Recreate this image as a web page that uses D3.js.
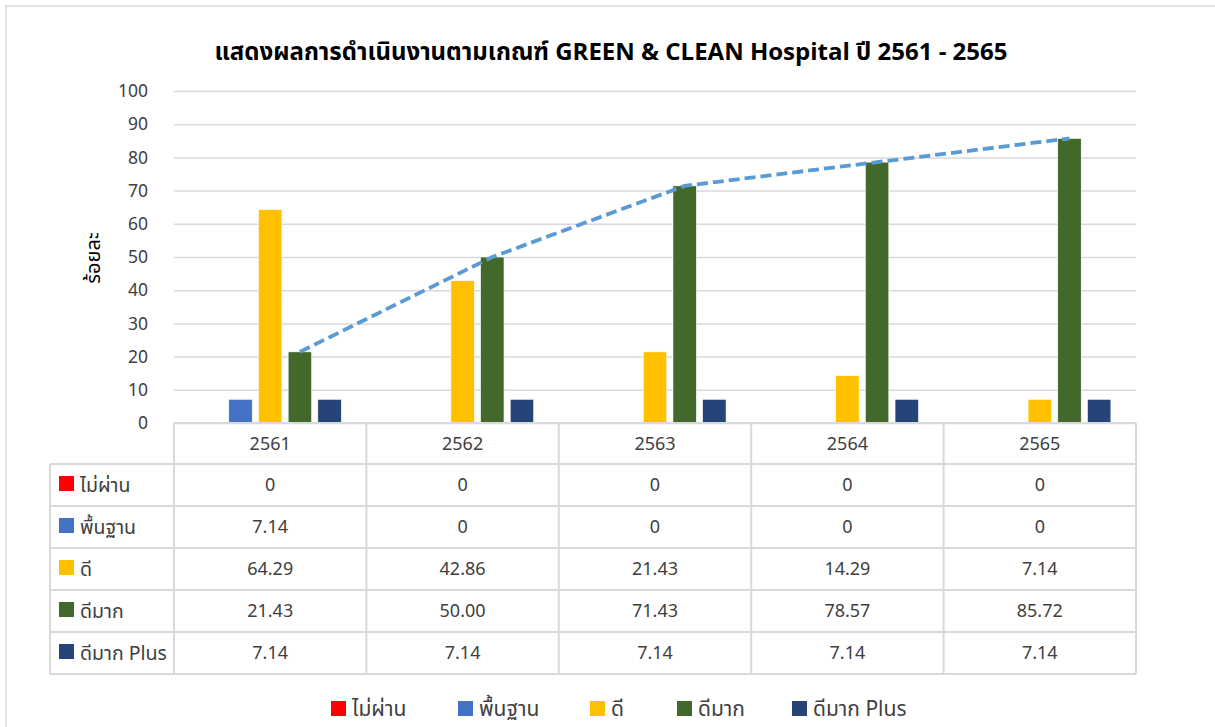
<!DOCTYPE html>
<html><head><meta charset="utf-8">
<script src="https://cdn.jsdelivr.net/npm/d3@7"></script>
<style>
html,body{margin:0;padding:0;background:#fff;}
svg{display:block;}
text{font-family:"Noto Sans Thai","Leelawadee UI",Tahoma,"Noto Sans","DejaVu Sans",sans-serif;}
</style></head>
<body><svg id="c" width="1215" height="727"></svg>
<script>
const categories = ['2561','2562','2563','2564','2565'];
const seriesNames = ['ไม่ผ่าน','พื้นฐาน','ดี','ดีมาก','ดีมาก Plus'];
const seriesColors = ['#FF0000','#4472C4','#FFC000','#43682B','#264478'];
const failValues = [0,0,0,0,0];
const basicValues = [7.14,0,0,0,0];
const goodValues = [64.29,42.86,21.43,14.29,7.14];
const veryGoodValues = [21.43,50.00,71.43,78.57,85.72];
const plusValues = [7.14,7.14,7.14,7.14,7.14];
const yTicks = [0,10,20,30,40,50,60,70,80,90,100];
const titleText = 'แสดงผลการดำเนินงานตามเกณฑ์ GREEN & CLEAN Hospital ปี 2561 - 2565';
const yLabel = 'ร้อยละ';

const seriesValues = [failValues, basicValues, goodValues, veryGoodValues, plusValues];

(function(){
const svg = d3.select('#c');
const grid = '#D9D9D9';
const textCol = '#404040';

svg.append('rect').attr('x',6).attr('y',6).attr('width',1240).attr('height',760)
  .attr('fill','none').attr('stroke',grid).attr('stroke-width',1.5);

const pLeft = 174, pRight = 1136, pTop = 91, pBottom = 423;
const x = d3.scaleBand().domain(categories).range([pLeft,pRight]);
const xs = d3.scaleBand().domain(d3.range(seriesNames.length)).range([22, x.bandwidth()-22]).paddingInner(0.21).paddingOuter(0.105);
const y = d3.scaleLinear().domain([0,100]).range([pBottom, pTop]);

svg.append('text').attr('x',611).attr('y',52).attr('dy','0.35em').attr('text-anchor','middle')
  .attr('font-size',24).attr('font-weight','bold').attr('fill','#000').text(titleText);

const yAxis = d3.axisLeft(y).tickValues(yTicks).tickSize(-(pRight-pLeft)).tickPadding(26).tickFormat(d3.format('d'));
const ga = svg.append('g').attr('transform',`translate(${pLeft},0)`).call(yAxis);
ga.select('.domain').remove();
ga.attr('font-family',null);
ga.selectAll('.tick line').attr('stroke',grid).attr('stroke-width',1.5);
ga.selectAll('.tick text').attr('font-size',17.5).attr('fill',textCol).attr('x',-26);

svg.append('text').attr('transform',`translate(100,258) rotate(-90)`).attr('text-anchor','middle')
  .attr('font-size',20).attr('fill','#000').text(yLabel);

seriesValues.forEach((vals, si) => {
  svg.append('g').selectAll('rect').data(vals).join('rect')
    .attr('x',(d,i)=>x(categories[i]) + xs(si))
    .attr('width',xs.bandwidth())
    .attr('y',d=>y(d))
    .attr('height',d=>y(0)-y(d))
    .attr('fill',seriesColors[si])
    .attr('stroke','#fff').attr('stroke-width',0.6)
    .attr('display',d=>d>0?null:'none');
});

const line = d3.line().x((d,i)=>x(categories[i]) + xs(3) + xs.bandwidth()/2).y(d=>y(d));
svg.append('path').datum(veryGoodValues).attr('d',line).attr('fill','none')
  .attr('stroke','#5B9BD5').attr('stroke-width',3.8).attr('stroke-dasharray','11,5');

const rowTops = [423];
const rowH = 42;
for (let i=1;i<=seriesNames.length+1;i++) rowTops.push(423 + 41 + (i-1)*rowH);
const tableLeft = 50;
const tg = svg.append('g');
rowTops.forEach((ry,i)=>{
  tg.append('line').attr('x1',i===0?pLeft:tableLeft).attr('x2',pRight).attr('y1',ry).attr('y2',ry)
    .attr('stroke',grid).attr('stroke-width',2);
});
const tableBottom = rowTops[rowTops.length-1];
tg.append('line').attr('x1',tableLeft).attr('x2',tableLeft).attr('y1',rowTops[1]).attr('y2',tableBottom).attr('stroke',grid).attr('stroke-width',2);
categories.concat(['end']).forEach((c,i)=>{
  const vx = i<categories.length ? x(c) : pRight;
  tg.append('line').attr('x1',vx).attr('x2',vx).attr('y1',423).attr('y2',tableBottom).attr('stroke',grid).attr('stroke-width',2);
});
categories.forEach(c=>{
  tg.append('text').attr('x',x(c)+x.bandwidth()/2).attr('y',(rowTops[0]+rowTops[1])/2).attr('dy','0.35em')
    .attr('text-anchor','middle').attr('font-size',18).attr('fill',textCol).text(c);
});
const fmt = v => v===0 ? '0' : v.toFixed(2);
seriesNames.forEach((name,si)=>{
  const cy = (rowTops[si+1]+rowTops[si+2])/2;
  tg.append('rect').attr('x',59).attr('y',cy-9).attr('width',15).attr('height',15).attr('fill',seriesColors[si]);
  tg.append('text').attr('x',80).attr('y',cy).attr('dy','0.35em').attr('font-size',19.5).attr('fill',textCol).text(name);
  seriesValues[si].forEach((v,i)=>{
    tg.append('text').attr('x',x(categories[i])+x.bandwidth()/2).attr('y',cy).attr('dy','0.35em')
      .attr('text-anchor','middle').attr('font-size',18).attr('fill',textCol).text(fmt(v));
  });
});

const legendX = [331, 458, 590, 677, 792];
const lg = svg.append('g');
seriesNames.forEach((name,si)=>{
  lg.append('rect').attr('x',legendX[si]).attr('y',701).attr('width',15).attr('height',15).attr('fill',seriesColors[si]);
  lg.append('text').attr('x',legendX[si]+21).attr('y',709).attr('dy','0.35em').attr('font-size',21).attr('fill',textCol).text(name);
});
})();
</script></body></html>
